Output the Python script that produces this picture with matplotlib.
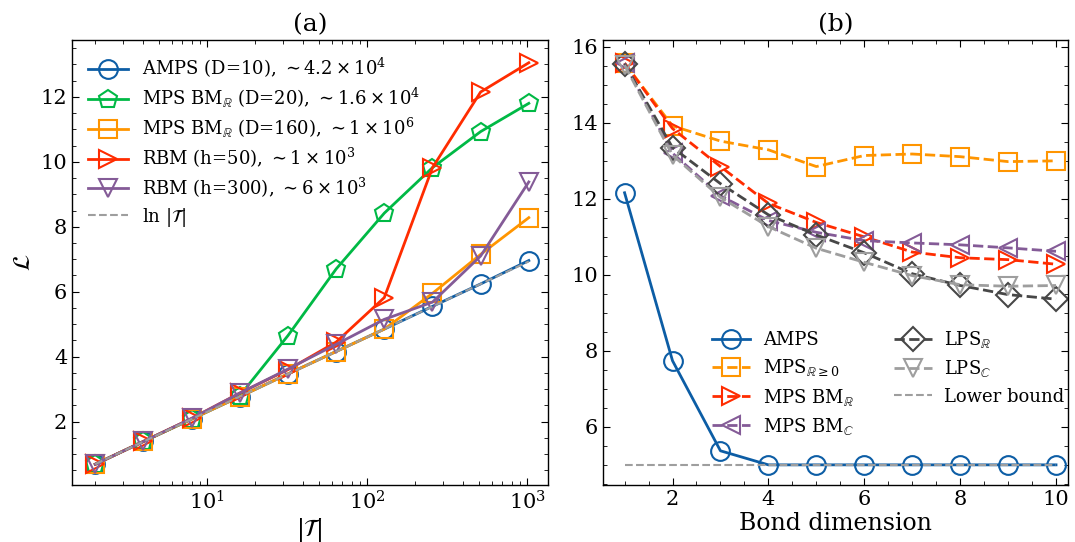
import numpy as np
import matplotlib
matplotlib.use("Agg")
import matplotlib.pyplot as plt
from matplotlib.ticker import MultipleLocator

plt.rcParams["font.family"] = ["DejaVu Serif"]
plt.rcParams["mathtext.fontset"] = "dejavuserif"

# panel (a)
T = [2, 4, 8, 16, 32, 64, 128, 256, 512, 1024]
amps_a = [0.69, 1.39, 2.08, 2.77, 3.47, 4.16, 4.85, 5.55, 6.24, 6.96]
mps20 = [0.69, 1.39, 2.08, 2.80, 4.65, 6.70, 8.42, 9.82, 10.93, 11.80]
mps160 = [0.69, 1.39, 2.08, 2.77, 3.47, 4.16, 4.85, 5.95, 7.15, 8.28]
rbm50 = [0.69, 1.39, 2.10, 2.88, 3.60, 4.45, 5.82, 9.82, 12.15, 13.05]
rbm300 = [0.69, 1.39, 2.10, 2.88, 3.62, 4.38, 5.15, 5.68, 7.10, 9.38]
lnT = np.log(T)

# panel (b)
D = [1, 2, 3, 4, 5, 6, 7, 8, 9, 10]
amps_b = [12.16, 7.74, 5.37, 5.0, 5.0, 5.0, 5.0, 5.0, 5.0, 5.0]
mps_pos = [15.57, 13.92, 13.52, 13.29, 12.85, 13.14, 13.18, 13.11, 12.98, 13.0]
mps_bmr = [15.57, 13.85, 12.85, 11.88, 11.38, 11.0, 10.6, 10.45, 10.4, 10.28]
mps_bmc = [15.57, 13.2, 12.08, 11.43, 11.12, 10.9, 10.84, 10.79, 10.71, 10.62]
lps_r = [15.55, 13.35, 12.4, 11.58, 11.05, 10.58, 10.03, 9.72, 9.48, 9.36]
lps_c = [15.52, 13.15, 12.04, 11.27, 10.7, 10.33, 9.98, 9.74, 9.7, 9.72]
lower = 5.0

blue, green, orange, red, purple = "#0C5DA5", "#00B945", "#FF9500", "#FF2C00", "#845B97"
dgray, lgray = "#474747", "#9e9e9e"

fig = plt.figure(figsize=(10.75, 5.42), dpi=100)
ax1 = fig.add_axes([72 / 1075, 1 - 485 / 542, 476 / 1075, 445 / 542])
ax2 = fig.add_axes([603 / 1075, 1 - 485 / 542, 465 / 1075, 445 / 542])

mk = dict(fillstyle="none", markersize=13.5, markeredgewidth=1.5, lw=2)

ax1.plot(T, amps_a, "-o", color=blue, label=r"AMPS (D=10), $\sim 4.2\times10^4$", **mk)
ax1.plot(T, mps20, "-p", color=green, label=r"MPS BM$_\mathbb{R}$ (D=20), $\sim 1.6\times10^4$", **mk)
ax1.plot(T, mps160, "-s", color=orange, label=r"MPS BM$_\mathbb{R}$ (D=160), $\sim 1\times10^6$", **mk)
ax1.plot(T, rbm50, "->", color=red, label=r"RBM (h=50), $\sim 1\times10^3$", **mk)
ax1.plot(T, rbm300, "-v", color=purple, label=r"RBM (h=300), $\sim 6\times10^3$", **mk)
ax1.plot(T, lnT, "--", color=lgray, lw=1.5, label=r"$\ln\,|\mathcal{T}|$")
ax1.set_xscale("log")
ax1.set_xlim(1.43, 1350)
ax1.set_ylim(0.05, 13.75)
ax1.yaxis.set_major_locator(MultipleLocator(2))
ax1.yaxis.set_minor_locator(MultipleLocator(0.5))
ax1.set_xlabel(r"$|\mathcal{T}|$", fontsize=17, labelpad=2)
ax1.set_ylabel(r"$\mathcal{L}$", fontsize=17)
ax1.set_title("(a)", fontsize=18)
ax1.legend(loc="upper left", fontsize=13, frameon=False, handlelength=2.2,
           borderaxespad=0.5, labelspacing=0.32, handletextpad=0.8)

ax2.plot(D, amps_b, "-o", color=blue, label="AMPS", **mk)
ax2.plot(D, mps_pos, "--s", color=orange, label=r"MPS$_{\mathbb{R}\geq0}$", **mk)
ax2.plot(D, mps_bmr, "-->", color=red, label=r"MPS BM$_\mathbb{R}$", **mk)
ax2.plot(D, mps_bmc, "--<", color=purple, label=r"MPS BM$_\mathbb{C}$", **mk)
ax2.plot(D, lps_r, "--D", color=dgray, label=r"LPS$_\mathbb{R}$", **{**mk, "markersize": 12})
ax2.plot(D, lps_c, "--v", color=lgray, label=r"LPS$_\mathbb{C}$", **mk)
ax2.plot([D[0], D[-1]], [lower, lower], "--", color=lgray, lw=1.5, label="Lower bound")
ax2.set_xlim(0.55, 10.25)
ax2.set_ylim(4.47, 16.18)
ax2.xaxis.set_major_locator(MultipleLocator(2))
ax2.xaxis.set_minor_locator(MultipleLocator(0.5))
ax2.yaxis.set_major_locator(MultipleLocator(2))
ax2.yaxis.set_minor_locator(MultipleLocator(0.5))
ax2.set_xlabel("Bond dimension", fontsize=17, labelpad=2)
ax2.set_title("(b)", fontsize=18)
ax2.legend(ncol=2, loc="lower left", bbox_to_anchor=(0.2, 0.072), fontsize=13,
           frameon=False, handlelength=2.1, labelspacing=0.45, columnspacing=2.2,
           handletextpad=0.7)

for ax in (ax1, ax2):
    ax.tick_params(which="both", direction="in", top=True, right=True, labelsize=15)
    ax.tick_params(which="major", length=5)
    ax.tick_params(which="minor", length=3)
    for s in ax.spines.values():
        s.set_linewidth(1.0)

fig.savefig("out.png", dpi=100)
